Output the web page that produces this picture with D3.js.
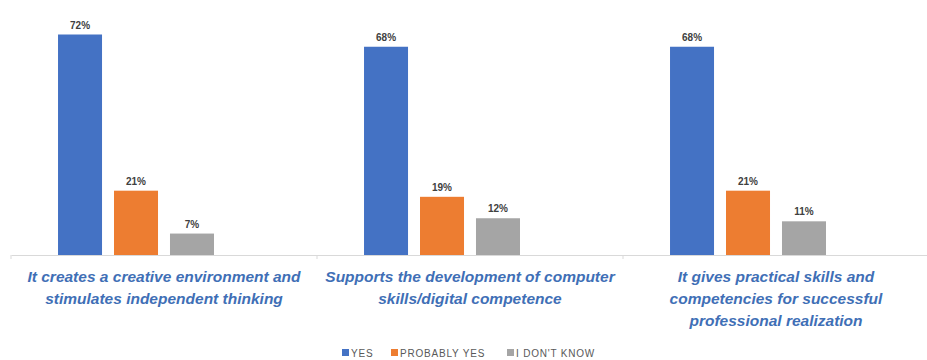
<!DOCTYPE html>
<html>
<head>
<meta charset="utf-8">
<script src="https://cdn.jsdelivr.net/npm/d3@7"></script>
<style>
  body { margin: 0; background: #fff; }
  svg { display: block; }
</style>
</head>
<body>
<svg id="chart"></svg>
<script>
// Chart data
const categories = [
  "It creates a creative environment and stimulates independent thinking",
  "Supports the development of computer skills/digital competence",
  "It gives practical skills and competencies for successful professional realization"
];
// wrapped label lines as in the original picture
const categoryLines = [
  ["It creates a creative environment and", "stimulates independent thinking"],
  ["Supports the development of computer", "skills/digital competence"],
  ["It gives practical skills and", "competencies for successful", "professional realization"]
];
const seriesNames = ["YES", "PROBABLY YES", "I DON'T KNOW"];
const yesValues = [72, 68, 68];
const probablyValues = [21, 19, 21];
const dontKnowValues = [7, 12, 11];
const colors = ["#4472C4", "#ED7D31", "#A5A5A5"];

const seriesValues = [yesValues, probablyValues, dontKnowValues];

const width = 927, height = 360;
const margin = { top: 10, right: 0, bottom: 105, left: 11 };
const svg = d3.select("#chart").attr("width", width).attr("height", height);

// Scales
const x0 = d3.scaleBand()
  .domain(categories)
  .range([margin.left, width - margin.right + 2])
  .paddingInner(0)
  .paddingOuter(0);

// 4 slots per group, last one is empty (as in the original)
const x1 = d3.scaleBand()
  .domain([...seriesNames, ""])
  .range([0, x0.bandwidth()])
  .paddingInner(0.214)
  .paddingOuter(0.84);

const y = d3.scaleLinear()
  .domain([0, 80])
  .range([height - margin.bottom, margin.top]);

// Bars
const groups = svg.selectAll(".group")
  .data(categories)
  .enter().append("g")
  .attr("class", "group")
  .attr("transform", d => "translate(" + x0(d) + ",0)");

groups.selectAll("rect")
  .data((d, i) => seriesNames.map((s, j) => ({ key: s, value: seriesValues[j][i], color: colors[j] })))
  .enter().append("rect")
  .attr("x", d => x1(d.key))
  .attr("y", d => y(d.value))
  .attr("width", x1.bandwidth())
  .attr("height", d => y(0) - y(d.value))
  .attr("fill", d => d.color);

// Value labels
groups.selectAll(".val")
  .data((d, i) => seriesNames.map((s, j) => ({ key: s, value: seriesValues[j][i] })))
  .enter().append("text")
  .attr("class", "val")
  .attr("x", d => x1(d.key) + x1.bandwidth() / 2)
  .attr("y", d => y(d.value) - 6)
  .attr("text-anchor", "middle")
  .style("font-family", "'Liberation Sans', Arial, sans-serif")
  .style("font-weight", "bold")
  .style("font-size", "10px")
  .style("fill", "#404040")
  .text(d => d.value + "%");

// X axis
const xAxis = d3.axisBottom(x0).tickSize(0).tickFormat("");
const axisG = svg.append("g")
  .attr("transform", "translate(0," + y(0) + ")")
  .call(xAxis);
axisG.select(".domain").attr("stroke", "#D9D9D9").attr("stroke-width", 1.2);

// Tick marks at category boundaries
const bounds = categories.map(c => x0(c)).concat([x0(categories[2]) + x0.bandwidth()]);
axisG.selectAll(".bound")
  .data(bounds)
  .enter().append("line")
  .attr("x1", d => d).attr("x2", d => d)
  .attr("y1", 0).attr("y2", 4)
  .attr("stroke", "#D9D9D9");

// Category labels
categories.forEach((c, i) => {
  const t = svg.append("text")
    .attr("x", x0(c) + x0.bandwidth() / 2)
    .attr("y", y(0) + 27)
    .attr("text-anchor", "middle")
    .style("font-family", "'Liberation Sans', Arial, sans-serif")
    .style("font-weight", "bold")
    .style("font-style", "italic")
    .style("font-size", "15.5px")
    .style("fill", "#3F6FB6");
  categoryLines[i].forEach((line, k) => {
    t.append("tspan")
      .attr("x", x0(c) + x0.bandwidth() / 2)
      .attr("dy", k === 0 ? 0 : 22)
      .text(line);
  });
});

// Legend
const legendX = [342, 391, 507];
const legend = svg.append("g").attr("class", "legend");
seriesNames.forEach((s, i) => {
  legend.append("rect")
    .attr("x", legendX[i]).attr("y", 349)
    .attr("width", 7).attr("height", 7)
    .attr("fill", colors[i]);
  legend.append("text")
    .attr("x", legendX[i] + 9).attr("y", 357)
    .style("font-family", "'Liberation Sans', Arial, sans-serif")
    .style("font-size", "10px")
    .style("letter-spacing", "0.8px")
    .style("fill", "#595959")
    .text(s);
});
</script>
</body>
</html>
